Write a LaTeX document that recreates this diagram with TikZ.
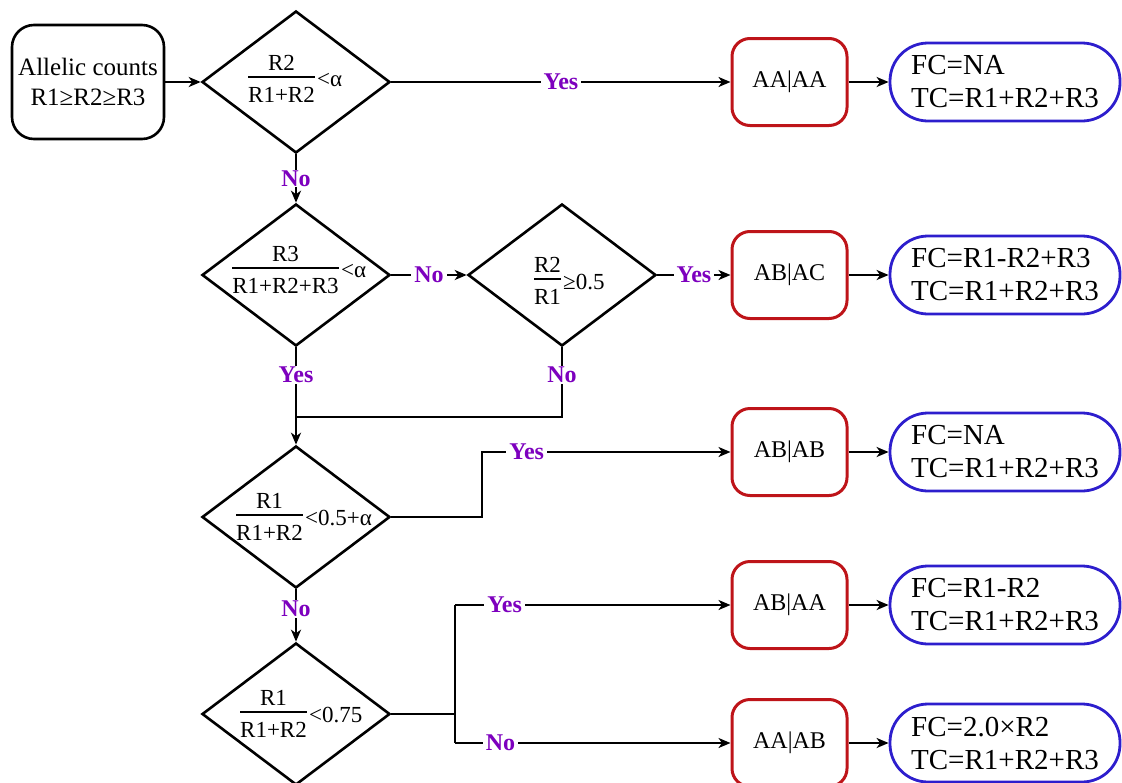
\documentclass[tikz,border=0pt]{standalone}
\usepackage{fontspec}
\setmainfont{Liberation Serif}
\usetikzlibrary{shapes.geometric,arrows.meta}
\definecolor{lblpurple}{RGB}{125,0,190}
\definecolor{boxred}{RGB}{190,20,25}
\definecolor{boxblue}{RGB}{45,30,205}
\newcommand{\diafrac}[7]{%
  \draw[fbar] (#2,#4) -- (#3,#4);
  \node[ft] (#1n) at ({(#2+#3)/2},{#4-14}) {#5};
  \node[ft] (#1d) at ({(#2+#3)/2},{#4+18}) {#6};
  \node[ft,anchor=west] (#1r) at ({#3+2},{#4+3}) {#7};
}
\begin{document}
\begin{tikzpicture}[x=1pt,y=-1pt,
  conn/.style={line width=2.2pt, black},
  arr/.style={conn, -{Stealth[length=12pt,width=10pt,inset=3.5pt]}},
  lbl/.style={font=\fontsize{24}{26}\selectfont\bfseries, text=lblpurple, fill=white, inner xsep=3pt, inner ysep=1pt},
  dia/.style={diamond, draw, line width=2.6pt, minimum width=188pt, minimum height=142pt, inner sep=0pt},
  sbox/.style={draw, line width=2.6pt, rounded corners=22pt, minimum width=152pt, minimum height=114pt, align=center, font=\fontsize{25}{30}\selectfont, inner sep=0pt},
  rbox/.style={draw=boxred, line width=3pt, rounded corners=18pt, minimum width=115pt, minimum height=87pt, font=\fontsize{24}{28}\selectfont, inner sep=0pt},
  bbox/.style={draw=boxblue, line width=2.8pt, rounded corners=38pt, minimum width=230pt, minimum height=78pt, align=left, font=\fontsize{29}{33}\selectfont, inner sep=0pt},
  ft/.style={font=\fontsize{23}{26}\selectfont, inner sep=0pt},
  fbar/.style={line width=1.7pt}
]
\useasboundingbox (0,0) rectangle (1122,782);

\node[sbox] (start) at (88,82) {Allelic counts\\R1≥R2≥R3};
\node[dia] (d1) at (296,82) {};
\node[dia] (d2) at (296,275) {};
\node[dia] (d3) at (562,275) {};
\node[dia] (d4) at (296,517) {};
\node[dia] (d5) at (296,714) {};

\diafrac{f1}{248}{315}{77}{R2}{R1+R2}{<α}
\diafrac{f2}{232}{339}{268}{R3}{R1+R2+R3}{<α}
\diafrac{f3}{534}{561}{279}{R2}{R1}{≥0.5}
\diafrac{f4}{236}{303}{515}{R1}{R1+R2}{<0.5+α}
\diafrac{f5}{240}{307}{712}{R1}{R1+R2}{<0.75}

\node[rbox] (r1) at (789.5,82) {AA|AA};
\node[rbox] (r2) at (789.5,275) {AB|AC};
\node[rbox] (r3) at (789.5,452) {AB|AB};
\node[rbox] (r4) at (789.5,605) {AB|AA};
\node[rbox] (r5) at (789.5,743) {AA|AB};

\node[bbox] (b1) at (1005,82) {FC=NA\\TC=R1+R2+R3};
\node[bbox] (b2) at (1005,275) {FC=R1-R2+R3\\TC=R1+R2+R3};
\node[bbox] (b3) at (1005,452) {FC=NA\\TC=R1+R2+R3};
\node[bbox] (b4) at (1005,605) {FC=R1-R2\\TC=R1+R2+R3};
\node[bbox] (b5) at (1005,743) {FC=2.0×R2\\TC=R1+R2+R3};

\draw[arr] (start.east) -- (d1.west);
\draw[arr] (d1.east) -- node[lbl]{Yes} (r1.west);
\draw[arr] (d1.south) -- node[lbl]{No} (d2.north);
\draw[arr] (d2.east) -- node[lbl]{No} (d3.west);
\draw[arr] (d3.east) -- node[lbl]{Yes} (r2.west);

\coordinate (j1) at (296,417);
\coordinate (j2) at (d3.south |- j1);
\draw[conn] (d2.south) -- node[lbl,pos=0.4]{Yes} (j1);
\draw[conn] (d3.south) -- node[lbl,pos=0.4]{No} (j2) -- (j1);
\draw[arr] (j1) -- (d4.north);

\coordinate (k0) at (482,517);
\coordinate (k1) at (482,452);
\draw[arr] (d4.east) -- (k0) -- (k1) -- node[lbl,pos=0.18]{Yes} (r3.west);

\draw[arr] (d4.south) -- node[lbl,pos=0.38]{No} (d5.north);

\coordinate (m0) at (455,714);
\coordinate (m1) at (455,605);
\coordinate (m2) at (455,743);
\draw[conn] (d5.east) -- (m0);
\draw[conn] (m1) -- (m2);
\draw[arr] (m1) -- node[lbl,pos=0.18]{Yes} (r4.west);
\draw[arr] (m2) -- node[lbl,pos=0.165]{No} (r5.west);

\foreach \i in {1,...,5} {
  \draw[arr] (r\i.east) -- (b\i.west);
}
\end{tikzpicture}
\end{document}
